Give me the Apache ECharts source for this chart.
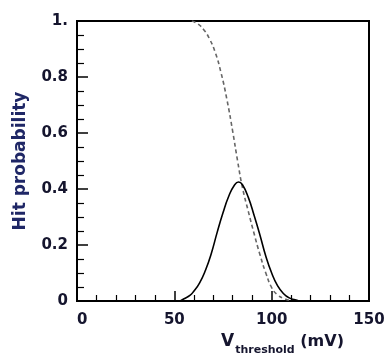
<!DOCTYPE html>
<html><head><meta charset="utf-8">
<script src="https://cdn.jsdelivr.net/npm/echarts@6/dist/echarts.min.js"></script>
<style>html,body{margin:0;padding:0;background:#fff}#c{width:390px;height:358px}</style>
</head><body><div id="c"></div>
<script>
const gaussX = [53, 55, 58, 60, 63, 66, 69, 72, 75, 78, 81, 83, 85, 88, 91, 94, 97, 100, 103, 106, 109, 112, 114];
const gaussY = [0.0, 0.008, 0.02, 0.035, 0.065, 0.11, 0.17, 0.245, 0.315, 0.375, 0.415, 0.425, 0.415, 0.37, 0.305, 0.235, 0.16, 0.1, 0.055, 0.027, 0.011, 0.004, 0.0];
const sigX = [59, 62, 65, 68, 71, 74, 77, 80, 82.5, 85, 88, 91, 94, 97, 100, 103, 106, 110];
const sigY = [1.0, 0.99, 0.97, 0.937, 0.888, 0.815, 0.72, 0.605, 0.5, 0.405, 0.32, 0.24, 0.165, 0.1, 0.048, 0.022, 0.01, 0.0];
const xTickLabels = ['0', '50', '100', '150'];
const yTickLabels = ['0', '0.2', '0.4', '0.6', '0.8', '1.'];

const chart = echarts.init(document.getElementById('c'));
const labelFont = {fontFamily: 'DejaVu Sans', fontWeight: 'bold', fontSize: 15, color: '#15152e'};
chart.setOption({
  animation: false,
  grid: {left: 77, right: 21, top: 21, bottom: 57, show: true, borderColor: '#000', borderWidth: 2, backgroundColor: 'transparent'},
  xAxis: {
    type: 'value', min: 0, max: 150, interval: 50,
    axisLine: {show: true, lineStyle: {color: '#000', width: 2}},
    axisTick: {inside: true, length: 10, lineStyle: {color: '#000', width: 1.5}},
    minorTick: {show: true, splitNumber: 5, length: 6, lineStyle: {color: '#000', width: 1.2}},
    splitLine: {show: false},
    axisLabel: Object.assign({margin: 12, alignMinLabel: 'left', formatter: (v) => xTickLabels[Math.round(v / 50)]}, labelFont)
  },
  yAxis: {
    type: 'value', min: 0, max: 1, interval: 0.2,
    axisLine: {show: true, lineStyle: {color: '#000', width: 2}},
    axisTick: {inside: true, length: 11, lineStyle: {color: '#000', width: 1.5}},
    minorTick: {show: true, splitNumber: 4, length: 7, lineStyle: {color: '#000', width: 1.2}},
    splitLine: {show: false},
    axisLabel: Object.assign({margin: 9, formatter: (v) => yTickLabels[Math.round(v / 0.2)]}, labelFont),
    name: 'Hit probability', nameLocation: 'middle', nameGap: 48,
    nameTextStyle: {fontFamily: 'DejaVu Sans', fontWeight: 'bold', fontSize: 17, color: '#1f2766'}
  },
  graphic: [{
    type: 'text', left: 221, top: 333,
    style: {
      text: '{v|V}{s|threshold}{m| (mV)}',
      rich: {
        v: {fontFamily: 'DejaVu Sans', fontWeight: 'bold', fontSize: 17, fill: '#15152e', verticalAlign: 'bottom'},
        s: {fontFamily: 'DejaVu Sans', fontWeight: 'bold', fontSize: 11, fill: '#15152e', padding: [0, 0, -6, 1], verticalAlign: 'bottom'},
        m: {fontFamily: 'DejaVu Sans', fontWeight: 'bold', fontSize: 16, fill: '#15152e', verticalAlign: 'bottom'}
      }
    }
  }],
  series: [
    {type: 'line', data: sigX.map((x, i) => [x, sigY[i]]), smooth: 0.5, symbol: 'none',
     lineStyle: {color: '#666', width: 1.6, type: [4, 3]}, z: 2},
    {type: 'line', data: gaussX.map((x, i) => [x, gaussY[i]]), smooth: 0.5, symbol: 'none',
     lineStyle: {color: '#000', width: 1.6}, z: 3}
  ]
});
</script></body></html>
